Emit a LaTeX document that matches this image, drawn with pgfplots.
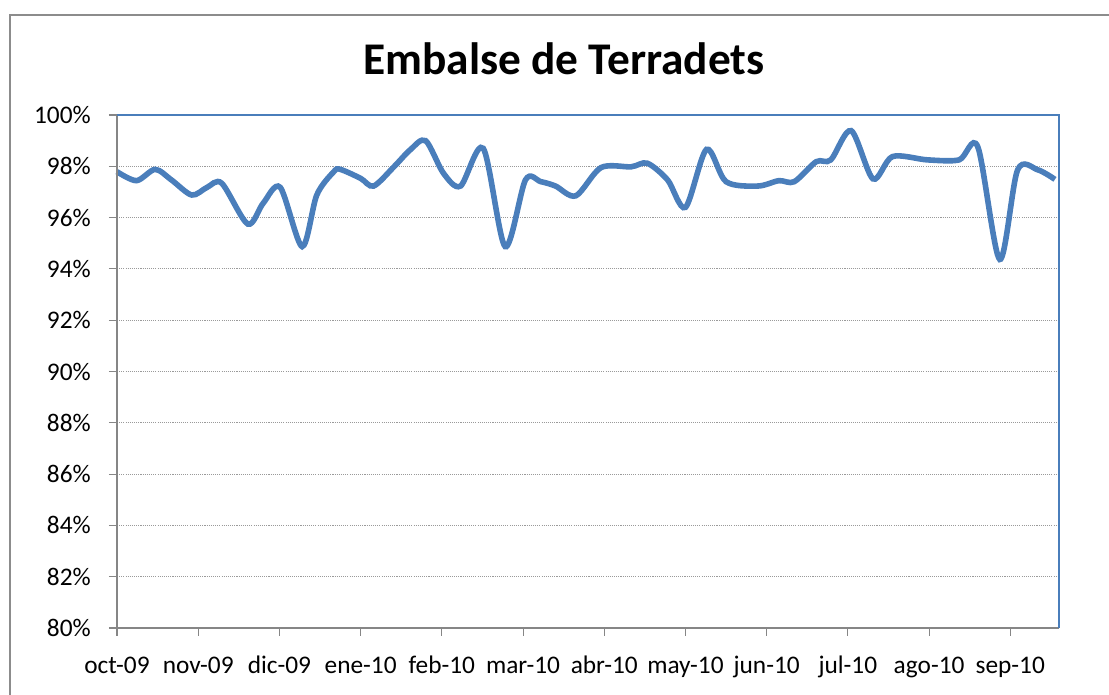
\documentclass[border=0pt]{standalone}
\usepackage{fontspec}
\setmainfont{Carlito}
\usepackage{pgfplots}
\pgfplotsset{compat=1.18}

\definecolor{lineblue}{HTML}{4A7EBB}
\definecolor{axisgray}{HTML}{868686}
\definecolor{gridgray}{HTML}{9A9A9A}
\definecolor{framegray}{HTML}{8C8C8C}

\begin{document}
\begin{tikzpicture}
% image area: 1109x695 px at 0.375pt per px, axis corner at px (117,628)
\useasboundingbox (-43.875pt,-25.125pt) rectangle (372pt,235.5pt);
\draw[framegray, line width=1.1pt] (-40.125pt,-60pt) rectangle (420pt,229.875pt);
\node[anchor=base, font=\fontsize{17}{19}\selectfont\bfseries] at (167.6pt,207.5pt) {Embalse de Terradets};
\begin{axis}[
    at={(0pt,0pt)}, anchor=south west,
    width=353.25pt, height=192.375pt,
    scale only axis,
    xmin=0, xmax=11.6,
    ymin=80, ymax=100,
    xtick={0,1,2,3,4,5,6,7,8,9,10,11},
    xticklabels={oct-09,nov-09,dic-09,ene-10,feb-10,mar-10,abr-10,may-10,jun-10,jul-10,ago-10,sep-10},
    ytick={80,82,84,86,88,90,92,94,96,98,100},
    yticklabels={80\%,82\%,84\%,86\%,88\%,90\%,92\%,94\%,96\%,98\%,100\%},
    tick align=outside,
    xtick pos=bottom, ytick pos=left,
    major tick length=3pt,
    tick style={axisgray, line width=0.4pt},
    ticklabel style={font=\fontsize{9.5}{11}\selectfont},
    xticklabel style={yshift=-3pt, text height=1.6ex, text depth=0.3ex},
    yticklabel style={xshift=-3.3pt},
    /pgf/number format/assume math mode=true,
    axis line style={draw=none},
    ymajorgrids,
    grid style={gridgray, dash pattern=on 0.4pt off 0.4pt, line width=0.4pt},
    clip=false,
]
\addplot[lineblue, line width=2.1pt, smooth, tension=0.5] coordinates {
(0.00,97.79) (0.24,97.44) (0.47,97.88) (0.67,97.47) (0.92,96.88)
(1.11,97.18) (1.29,97.34) (1.61,95.75) (1.80,96.56) (2.01,97.18)
(2.28,94.87) (2.46,96.88) (2.67,97.79) (2.75,97.88) (3.00,97.53)
(3.16,97.23) (3.41,97.98) (3.61,98.64) (3.80,99.00) (4.02,97.73)
(4.23,97.23) (4.51,98.70) (4.78,94.87) (5.03,97.47) (5.22,97.40)
(5.40,97.23) (5.65,96.85) (5.96,97.95) (6.33,97.98) (6.53,98.12)
(6.78,97.47) (7.00,96.40) (7.26,98.66) (7.50,97.40) (7.89,97.23)
(8.15,97.44) (8.34,97.40) (8.61,98.18) (8.79,98.25) (9.04,99.39)
(9.31,97.51) (9.55,98.38) (9.98,98.25) (10.37,98.25) (10.60,98.76)
(10.87,94.37) (11.09,97.86) (11.34,97.86) (11.55,97.49)
};
\draw[axisgray, line width=0.5pt] (rel axis cs:0,1) -- (rel axis cs:0,0) -- (rel axis cs:1,0);
\draw[lineblue, line width=0.5pt] (rel axis cs:0,1) -- (rel axis cs:1,1) -- (rel axis cs:1,0);
\end{axis}
\end{tikzpicture}
\end{document}
